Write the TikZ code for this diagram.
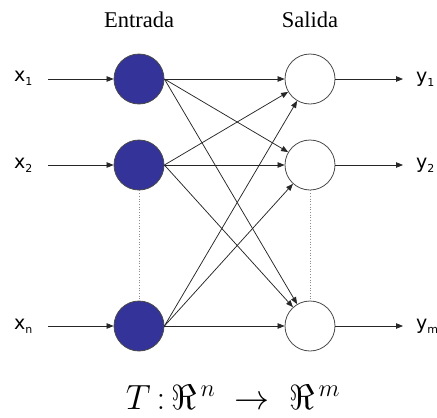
\RequirePackage{fix-cm}
\documentclass[tikz,border=0pt]{standalone}
\usepackage{fontspec}
\setmainfont{Liberation Serif}
\newfontfamily\labelfont{DejaVu Sans}
\usetikzlibrary{arrows.meta}
\definecolor{InputBlue}{HTML}{333399}
\definecolor{RimGray}{HTML}{4A4A4A}
\definecolor{DotGray}{HTML}{8C8C8C}
\newcommand{\lowidx}[1]{\raisebox{-4pt}{\fontsize{11}{12}\selectfont #1}}
\tikzset{
    inneuron/.style={circle, draw=RimGray, fill=InputBlue, minimum size=50pt, inner sep=0pt, line width=0.8pt},
    outneuron/.style={circle, draw=RimGray, fill=white, minimum size=50pt, inner sep=0pt, line width=0.8pt},
    link/.style={-{Triangle[length=7pt,width=5.5pt]}, line width=0.75pt, black!85},
    iolabel/.style={inner sep=0pt, font=\labelfont\fontsize{19}{22}\selectfont},
    heading/.style={anchor=base, inner sep=0pt, font=\fontsize{22.5}{26}\selectfont}
}
\begin{document}
\begin{tikzpicture}[x=1pt, y=-1pt]
\useasboundingbox (0,0) rectangle (437,418);

% titles
\node[heading] (tin) at (139,27) {Entrada};
\node[heading] (tout) at (310,27) {Salida};

% neurons
\node[inneuron] (i1) at (139,79) {};
\node[inneuron] (i2) at (139,165) {};
\node[inneuron] (i3) at (139,326) {};
\node[outneuron] (o1) at (310,79) {};
\node[outneuron] (o2) at (310,165) {};
\node[outneuron] (o3) at (310,326) {};

% inputs and outputs
\node[iolabel, anchor=base west] (x1) at (14,81) {x\lowidx{1}};
\node[iolabel, anchor=base west] (x2) at (14,168) {x\lowidx{2}};
\node[iolabel, anchor=base west] (xn) at (14,329) {x\lowidx{n}};
\node[iolabel, anchor=base west] (y1) at (416,82) {y\lowidx{1}};
\node[iolabel, anchor=base west] (y2) at (416,168) {y\lowidx{2}};
\node[iolabel, anchor=base west] (ym) at (416,329) {y\lowidx{m}};

\coordinate (a1) at (48,79);
\coordinate (a2) at (48,165);
\coordinate (a3) at (48,326);
\coordinate (b1) at (403,79);
\coordinate (b2) at (403,165);
\coordinate (b3) at (403,326);

\foreach \k in {1,2,3} {
    \draw[link] (a\k) -- (i\k.west);
    \draw[link] (o\k.east) -- (b\k);
}

% weights
\foreach \i in {1,2,3}
    \foreach \j in {1,2,3}
        \draw[link] (i\i.east) -- (o\j);

% omitted neurons
\draw[DotGray, dotted, line width=0.7pt] (i2.south) -- (i3.north);
\draw[DotGray, dotted, line width=0.7pt] (o2.south) -- (o3.north);

\node[anchor=base, inner sep=0pt] (map) at (233,409) {\fontsize{35}{38}\selectfont $T\,{:}\,\Re^{\,n}\;\rightarrow\;\Re^{\,m}$};
\end{tikzpicture}
\end{document}
